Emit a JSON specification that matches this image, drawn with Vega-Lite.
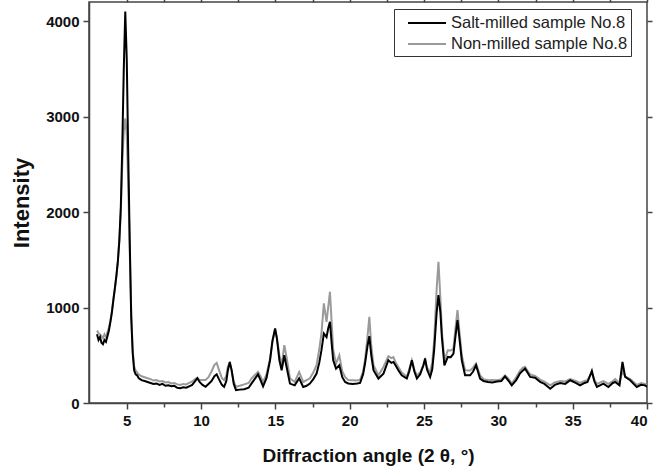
{
  "$schema": "https://vega.github.io/schema/vega-lite/v6.json",
  "width": 558,
  "height": 401,
  "autosize": {"type": "none"},
  "padding": {"left": 89, "top": 2, "right": 11, "bottom": 70},
  "background": "white",
  "config": {
    "view": {"stroke": "#444", "strokeWidth": 1.5},
    "font": "Liberation Sans",
    "axis": {"domainColor": "#444", "domainWidth": 1.5, "tickColor": "#444", "tickWidth": 1.5, "grid": false, "labelColor": "#111", "titleColor": "#111", "labelFontWeight": "bold", "labelFontSize": 15, "titleFontWeight": "bold"}
  },
  "data": {"values": [
    {"x":3.0,"salt":720,"non":760},{"x":3.1,"salt":660,"non":730},{"x":3.2,"salt":690,"non":720},{"x":3.3,"salt":630,"non":700},{"x":3.4,"salt":615,"non":680},{"x":3.5,"salt":660,"non":720},{"x":3.6,"salt":640,"non":690},{"x":3.7,"salt":700,"non":740},{"x":3.8,"salt":760,"non":790},{"x":3.9,"salt":850,"non":860},{"x":4.0,"salt":950,"non":960},{"x":4.1,"salt":1080,"non":1080},{"x":4.2,"salt":1200,"non":1200},{"x":4.3,"salt":1330,"non":1330},{"x":4.4,"salt":1480,"non":1480},{"x":4.5,"salt":1700,"non":1700},{"x":4.6,"salt":2050,"non":2000},{"x":4.7,"salt":2700,"non":2500},{"x":4.8,"salt":3500,"non":2850},{"x":4.9,"salt":4100,"non":2980},{"x":5.0,"salt":3600,"non":2800},{"x":5.1,"salt":2600,"non":2300},{"x":5.2,"salt":1700,"non":1600},{"x":5.3,"salt":900,"non":950},{"x":5.4,"salt":520,"non":560},{"x":5.5,"salt":340,"non":380},{"x":5.6,"salt":300,"non":340},{"x":5.7,"salt":290,"non":320},{"x":5.8,"salt":260,"non":300},{"x":5.9,"salt":250,"non":290},{"x":6.0,"salt":240,"non":280},{"x":6.2,"salt":230,"non":270},{"x":6.4,"salt":220,"non":260},{"x":6.6,"salt":210,"non":250},{"x":6.8,"salt":200,"non":235},{"x":7.0,"salt":205,"non":240},{"x":7.2,"salt":190,"non":225},{"x":7.4,"salt":200,"non":230},{"x":7.6,"salt":180,"non":215},{"x":7.8,"salt":185,"non":220},{"x":8.0,"salt":175,"non":205},{"x":8.2,"salt":180,"non":210},{"x":8.4,"salt":160,"non":195},{"x":8.6,"salt":155,"non":190},{"x":8.8,"salt":165,"non":200},{"x":9.0,"salt":160,"non":195},{"x":9.2,"salt":175,"non":210},{"x":9.4,"salt":190,"non":225},{"x":9.6,"salt":230,"non":250},{"x":9.75,"salt":260,"non":265},{"x":9.9,"salt":220,"non":240},{"x":10.1,"salt":190,"non":240},{"x":10.3,"salt":170,"non":240},{"x":10.5,"salt":200,"non":270},{"x":10.7,"salt":230,"non":330},{"x":10.9,"salt":280,"non":400},{"x":11.05,"salt":300,"non":420},{"x":11.2,"salt":250,"non":350},{"x":11.4,"salt":190,"non":260},{"x":11.55,"salt":170,"non":240},{"x":11.7,"salt":230,"non":290},{"x":11.8,"salt":340,"non":380},{"x":11.93,"salt":430,"non":415},{"x":12.05,"salt":350,"non":340},{"x":12.2,"salt":200,"non":220},{"x":12.35,"salt":135,"non":170},{"x":12.6,"salt":140,"non":180},{"x":12.9,"salt":145,"non":195},{"x":13.2,"salt":160,"non":210},{"x":13.4,"salt":206,"non":259},{"x":13.6,"salt":250,"non":290},{"x":13.83,"salt":300,"non":325},{"x":14.0,"salt":240,"non":280},{"x":14.17,"salt":175,"non":220},{"x":14.4,"salt":260,"non":300},{"x":14.64,"salt":448,"non":460},{"x":14.8,"salt":650,"non":640},{"x":14.98,"salt":780,"non":770},{"x":15.1,"salt":680,"non":680},{"x":15.27,"salt":448,"non":500},{"x":15.42,"salt":343,"non":395},{"x":15.6,"salt":500,"non":605},{"x":15.75,"salt":380,"non":480},{"x":15.98,"salt":203,"non":259},{"x":16.3,"salt":185,"non":220},{"x":16.6,"salt":259,"non":325},{"x":16.87,"salt":168,"non":220},{"x":17.1,"salt":180,"non":240},{"x":17.32,"salt":203,"non":259},{"x":17.55,"salt":250,"non":320},{"x":17.77,"salt":308,"non":395},{"x":17.95,"salt":420,"non":560},{"x":18.1,"salt":553,"non":731},{"x":18.26,"salt":728,"non":1043},{"x":18.44,"salt":690,"non":850},{"x":18.55,"salt":780,"non":1000},{"x":18.67,"salt":850,"non":1165},{"x":18.8,"salt":600,"non":800},{"x":18.89,"salt":448,"non":553},{"x":19.08,"salt":360,"non":413},{"x":19.3,"salt":395,"non":500},{"x":19.5,"salt":270,"non":330},{"x":19.69,"salt":220,"non":273},{"x":19.9,"salt":205,"non":240},{"x":20.2,"salt":200,"non":238},{"x":20.5,"salt":205,"non":235},{"x":20.7,"salt":210,"non":245},{"x":20.9,"salt":300,"non":330},{"x":21.03,"salt":413,"non":450},{"x":21.2,"salt":600,"non":700},{"x":21.32,"salt":700,"non":902},{"x":21.45,"salt":500,"non":600},{"x":21.6,"salt":343,"non":395},{"x":21.93,"salt":256,"non":290},{"x":22.27,"salt":308,"non":378},{"x":22.6,"salt":448,"non":490},{"x":22.8,"salt":420,"non":470},{"x":22.94,"salt":430,"non":480},{"x":23.1,"salt":390,"non":420},{"x":23.27,"salt":343,"non":378},{"x":23.5,"salt":290,"non":320},{"x":23.84,"salt":256,"non":276},{"x":24.0,"salt":330,"non":350},{"x":24.18,"salt":448,"non":448},{"x":24.35,"salt":330,"non":350},{"x":24.52,"salt":256,"non":290},{"x":24.74,"salt":300,"non":320},{"x":24.96,"salt":395,"non":400},{"x":25.07,"salt":466,"non":450},{"x":25.2,"salt":350,"non":370},{"x":25.41,"salt":273,"non":325},{"x":25.55,"salt":350,"non":420},{"x":25.68,"salt":553,"non":650},{"x":25.85,"salt":950,"non":1200},{"x":25.97,"salt":1130,"non":1479},{"x":26.1,"salt":950,"non":1100},{"x":26.2,"salt":692,"non":750},{"x":26.37,"salt":395,"non":448},{"x":26.6,"salt":483,"non":553},{"x":26.8,"salt":480,"non":550},{"x":26.98,"salt":518,"non":570},{"x":27.1,"salt":680,"non":760},{"x":27.25,"salt":868,"non":972},{"x":27.4,"salt":650,"non":720},{"x":27.54,"salt":448,"non":500},{"x":27.76,"salt":290,"non":343},{"x":28.1,"salt":290,"non":340},{"x":28.3,"salt":330,"non":370},{"x":28.5,"salt":395,"non":413},{"x":28.77,"salt":256,"non":290},{"x":29.0,"salt":230,"non":250},{"x":29.3,"salt":220,"non":238},{"x":29.6,"salt":215,"non":240},{"x":29.9,"salt":225,"non":238},{"x":30.2,"salt":230,"non":250},{"x":30.45,"salt":280,"non":290},{"x":30.7,"salt":230,"non":250},{"x":30.9,"salt":185,"non":203},{"x":31.2,"salt":240,"non":270},{"x":31.46,"salt":311,"non":340},{"x":31.65,"salt":340,"non":370},{"x":31.8,"salt":360,"non":378},{"x":32.0,"salt":310,"non":330},{"x":32.14,"salt":273,"non":300},{"x":32.47,"salt":265,"non":285},{"x":32.81,"salt":220,"non":245},{"x":33.1,"salt":200,"non":225},{"x":33.49,"salt":150,"non":185},{"x":33.8,"salt":190,"non":215},{"x":34.16,"salt":210,"non":230},{"x":34.5,"salt":200,"non":225},{"x":34.83,"salt":238,"non":250},{"x":35.2,"salt":210,"non":230},{"x":35.5,"salt":185,"non":210},{"x":35.8,"salt":210,"non":230},{"x":36.0,"salt":220,"non":240},{"x":36.29,"salt":336,"non":320},{"x":36.45,"salt":230,"non":250},{"x":36.63,"salt":168,"non":200},{"x":37.07,"salt":203,"non":230},{"x":37.4,"salt":168,"non":200},{"x":37.7,"salt":210,"non":230},{"x":37.86,"salt":220,"non":250},{"x":38.15,"salt":185,"non":210},{"x":38.35,"salt":430,"non":330},{"x":38.53,"salt":273,"non":280},{"x":38.87,"salt":238,"non":250},{"x":39.1,"salt":200,"non":220},{"x":39.31,"salt":168,"non":190},{"x":39.6,"salt":190,"non":210},{"x":39.87,"salt":185,"non":200},{"x":40.0,"salt":170,"non":190}
  ]},
  "transform": [{"fold": ["non", "salt"], "as": ["series", "y"]}],
  "resolve": {"axis": {"x": "independent", "y": "independent"}},
  "layer": [
    {
      "mark": {"type": "line", "strokeWidth": 2, "clip": true},
      "encoding": {
        "x": {"field": "x", "type": "quantitative", "scale": {"domain": [2.46, 40], "nice": false, "zero": false},
          "axis": {"values": [5,7.5,10,12.5,15,17.5,20,22.5,25,27.5,30,32.5,35,37.5,40], "labelExpr": "datum.value % 5 == 0 ? datum.label : ''", "tickSize": {"condition": {"test": "datum.value % 5 == 0", "value": 6}, "value": 4}, "labelPadding": 4, "title": "Diffraction angle (2 θ, °)", "titleFontSize": 19, "titlePadding": 18}},
        "y": {"field": "y", "type": "quantitative", "scale": {"domain": [0, 4200], "nice": false},
          "axis": {"values": [0,1000,2000,3000,4000], "format": "d", "tickSize": 6, "labelPadding": 4, "title": "Intensity", "titleFontSize": 22, "titlePadding": 12}},
        "color": {"field": "series", "type": "nominal",
          "scale": {"domain": ["salt", "non"], "range": ["#000000", "#9a9a9a"]},
          "legend": {"title": null, "orient": "none", "legendX": 305, "legendY": 7, "labelExpr": "datum.value == 'salt' ? 'Salt-milled sample No.8' : 'Non-milled sample No.8'", "labelFontSize": 16.5, "labelLimit": 400, "labelColor": "#222", "labelFont": "Liberation Sans", "symbolType": "M0,0H3.8", "symbolSize": 400, "symbolStrokeWidth": 2, "strokeColor": "#333", "padding": 3, "rowPadding": 1, "labelOffset": 32, "fillColor": "white", "offset": 0}
        }
      }
    },
    {
      "mark": {"type": "point", "opacity": 0},
      "encoding": {
        "x": {"field": "x", "type": "quantitative", "axis": {"orient": "top", "values": [5,7.5,10,12.5,15,17.5,20,22.5,25,27.5,30,32.5,35,37.5,40], "labels": false, "tickSize": 4, "domain": false, "title": null}},
        "y": {"field": "y", "type": "quantitative", "axis": {"orient": "right", "values": [0,1000,2000,3000,4000], "labels": false, "tickSize": 5, "domain": false, "title": null}}
      }
    }
  ]
}
